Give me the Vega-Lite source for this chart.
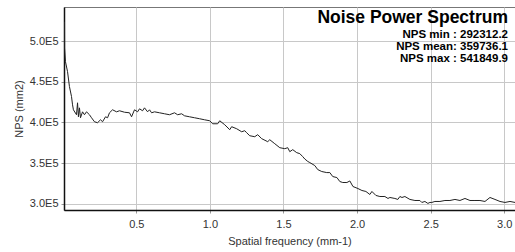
{
  "$schema": "https://vega.github.io/schema/vega-lite/v6.json",
  "width": 451,
  "height": 203,
  "autosize": {"type": "none"},
  "padding": {"left": 64, "top": 7, "right": 0, "bottom": 42},
  "background": "white",
  "config": {
    "view": {"stroke": "#777", "strokeWidth": 1},
    "font": "Liberation Sans",
    "axis": {
      "gridColor": "#c8c8c8", "gridWidth": 1, "gridOpacity": 1,
      "domainColor": "#111", "domainWidth": 1.5,
      "tickColor": "#999", "tickSize": 3,
      "labelFont": "Liberation Sans", "labelFontSize": 11, "labelColor": "#333",
      "titleFont": "Liberation Sans", "titleFontSize": 11, "titleColor": "#333", "titleFontWeight": "normal"
    }
  },
  "title": {
    "text": "Noise Power Spectrum",
    "subtitle": ["NPS min : 292312.2", "NPS mean: 359736.1", "NPS max : 541849.9"],
    "anchor": "end",
    "orient": "top",
    "offset": -57,
    "dx": -7,
    "font": "Liberation Sans",
    "fontSize": 17.5,
    "fontWeight": "bold",
    "color": "#000",
    "subtitleFont": "Liberation Sans",
    "subtitleFontSize": 11.5,
    "subtitleFontWeight": "bold",
    "subtitleColor": "#000",
    "subtitleLineHeight": 12,
    "subtitlePadding": 2
  },
  "data": {"values": [
    {"f": 0.0125, "nps": 523600}, {"f": 0.013, "nps": 491400}, {"f": 0.019, "nps": 474600},
    {"f": 0.033, "nps": 462400}, {"f": 0.046, "nps": 444000}, {"f": 0.060, "nps": 431800},
    {"f": 0.067, "nps": 421600}, {"f": 0.073, "nps": 415500}, {"f": 0.094, "nps": 409400},
    {"f": 0.101, "nps": 424100}, {"f": 0.107, "nps": 406900}, {"f": 0.114, "nps": 417900},
    {"f": 0.121, "nps": 405700}, {"f": 0.135, "nps": 413000}, {"f": 0.148, "nps": 409400},
    {"f": 0.162, "nps": 413000}, {"f": 0.182, "nps": 409400}, {"f": 0.196, "nps": 405700},
    {"f": 0.216, "nps": 400800}, {"f": 0.237, "nps": 399600}, {"f": 0.257, "nps": 403200},
    {"f": 0.271, "nps": 400800}, {"f": 0.291, "nps": 406900}, {"f": 0.305, "nps": 405700},
    {"f": 0.318, "nps": 411800}, {"f": 0.339, "nps": 415500}, {"f": 0.366, "nps": 413000},
    {"f": 0.386, "nps": 414300}, {"f": 0.42, "nps": 412500}, {"f": 0.454, "nps": 411800},
    {"f": 0.468, "nps": 406900}, {"f": 0.488, "nps": 415500}, {"f": 0.509, "nps": 413000},
    {"f": 0.522, "nps": 416700}, {"f": 0.543, "nps": 414300}, {"f": 0.556, "nps": 417900},
    {"f": 0.577, "nps": 413000}, {"f": 0.590, "nps": 415500}, {"f": 0.604, "nps": 411800},
    {"f": 0.624, "nps": 413000}, {"f": 0.658, "nps": 411800}, {"f": 0.692, "nps": 410600},
    {"f": 0.726, "nps": 409400}, {"f": 0.760, "nps": 411800}, {"f": 0.781, "nps": 409400},
    {"f": 0.808, "nps": 410600}, {"f": 0.828, "nps": 408100}, {"f": 0.862, "nps": 406900},
    {"f": 0.896, "nps": 405700}, {"f": 0.930, "nps": 404500}, {"f": 0.964, "nps": 403200},
    {"f": 0.999, "nps": 402000}, {"f": 1.019, "nps": 398300}, {"f": 1.053, "nps": 398300},
    {"f": 1.067, "nps": 402000}, {"f": 1.101, "nps": 397100}, {"f": 1.135, "nps": 391000},
    {"f": 1.148, "nps": 394700}, {"f": 1.182, "nps": 392200}, {"f": 1.216, "nps": 388500},
    {"f": 1.237, "nps": 389800}, {"f": 1.250, "nps": 387300}, {"f": 1.271, "nps": 383600},
    {"f": 1.305, "nps": 382400}, {"f": 1.325, "nps": 384900}, {"f": 1.352, "nps": 380000},
    {"f": 1.393, "nps": 376300}, {"f": 1.407, "nps": 378700}, {"f": 1.441, "nps": 373800},
    {"f": 1.475, "nps": 368900}, {"f": 1.509, "nps": 367700}, {"f": 1.529, "nps": 368900},
    {"f": 1.543, "nps": 364000}, {"f": 1.563, "nps": 366500}, {"f": 1.590, "nps": 362800},
    {"f": 1.611, "nps": 361600}, {"f": 1.631, "nps": 357900}, {"f": 1.645, "nps": 355000},
    {"f": 1.665, "nps": 352000}, {"f": 1.679, "nps": 350600}, {"f": 1.713, "nps": 346900},
    {"f": 1.733, "nps": 342000}, {"f": 1.760, "nps": 339600}, {"f": 1.794, "nps": 338300},
    {"f": 1.815, "nps": 338300}, {"f": 1.835, "nps": 333400}, {"f": 1.863, "nps": 332200},
    {"f": 1.883, "nps": 327300}, {"f": 1.903, "nps": 326100}, {"f": 1.931, "nps": 326100},
    {"f": 1.951, "nps": 328000}, {"f": 1.972, "nps": 321200}, {"f": 2.006, "nps": 318700},
    {"f": 2.033, "nps": 316300}, {"f": 2.060, "nps": 315100}, {"f": 2.087, "nps": 311400},
    {"f": 2.101, "nps": 315100}, {"f": 2.128, "nps": 310200}, {"f": 2.155, "nps": 308900},
    {"f": 2.189, "nps": 308900}, {"f": 2.210, "nps": 306500}, {"f": 2.223, "nps": 307700},
    {"f": 2.257, "nps": 306500}, {"f": 2.277, "nps": 305300}, {"f": 2.291, "nps": 308900},
    {"f": 2.305, "nps": 307700}, {"f": 2.325, "nps": 308900}, {"f": 2.359, "nps": 305300},
    {"f": 2.393, "nps": 304000}, {"f": 2.427, "nps": 304000}, {"f": 2.440, "nps": 301600},
    {"f": 2.461, "nps": 302800}, {"f": 2.481, "nps": 300400}, {"f": 2.495, "nps": 301600},
    {"f": 2.508, "nps": 301600}, {"f": 2.529, "nps": 302800}, {"f": 2.563, "nps": 302800},
    {"f": 2.597, "nps": 304000}, {"f": 2.631, "nps": 304000}, {"f": 2.665, "nps": 305300},
    {"f": 2.699, "nps": 304000}, {"f": 2.733, "nps": 306500}, {"f": 2.767, "nps": 304000},
    {"f": 2.801, "nps": 304000}, {"f": 2.835, "nps": 304000}, {"f": 2.869, "nps": 302800},
    {"f": 2.903, "nps": 307700}, {"f": 2.937, "nps": 305300}, {"f": 2.971, "nps": 302800},
    {"f": 3.005, "nps": 301600}, {"f": 3.039, "nps": 302800}, {"f": 3.073, "nps": 301600}
  ]},
  "mark": {"type": "line", "color": "#222", "strokeWidth": 1, "clip": true},
  "encoding": {
    "x": {
      "field": "f", "type": "quantitative",
      "scale": {"domain": [0.009, 3.073], "nice": false, "zero": false},
      "axis": {"values": [0.5, 1.0, 1.5, 2.0, 2.5, 3.0], "format": ".1f", "title": "Spatial frequency (mm-1)", "labelPadding": 5, "titlePadding": 6}
    },
    "y": {
      "field": "nps", "type": "quantitative",
      "scale": {"domain": [292312.2, 541849.9], "nice": false, "zero": false},
      "axis": {"values": [300000, 350000, 400000, 450000, 500000], "labelExpr": "format(datum.value/100000, '.1f') + 'E5'", "title": "NPS (mm2)", "labelPadding": 3, "titlePadding": 5}
    }
  }
}
